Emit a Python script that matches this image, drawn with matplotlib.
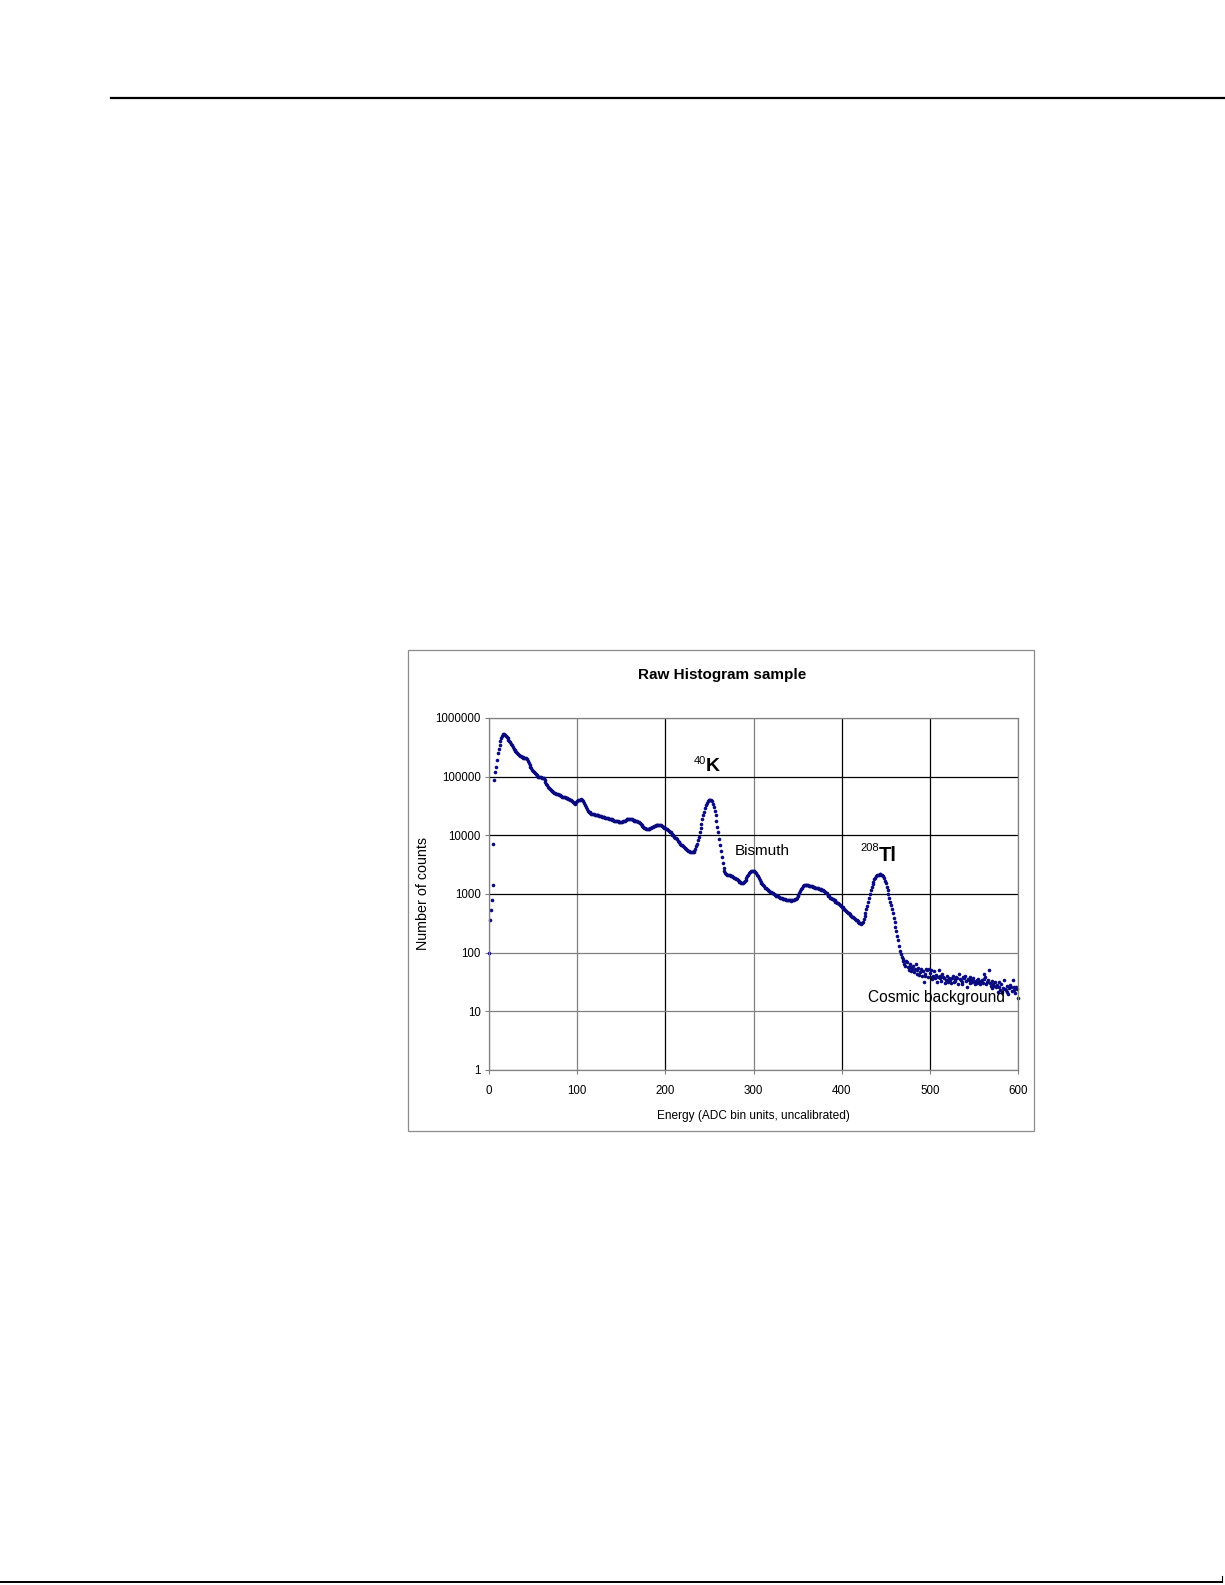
import numpy as np
import matplotlib.pyplot as plt
from matplotlib.lines import Line2D
from matplotlib.patches import Rectangle

plt.rcParams['font.family'] = ['Liberation Sans', 'DejaVu Sans']

# ADC bins 0..600, counts as log10 values
bins = np.arange(0, 601)
log10_counts = [
    2.00, 2.55, 2.72, 2.90, 3.15, 3.86, 4.95, 5.08, 5.17, 5.28,
    5.40, 5.47, 5.54, 5.60, 5.66, 5.70, 5.72, 5.72, 5.71, 5.69,
    5.68, 5.66, 5.63, 5.61, 5.59, 5.56, 5.54, 5.51, 5.48, 5.46,
    5.44, 5.42, 5.40, 5.38, 5.37, 5.36, 5.35, 5.34, 5.33, 5.32,
    5.32, 5.31, 5.31, 5.30, 5.27, 5.23, 5.20, 5.17, 5.14, 5.12,
    5.10, 5.08, 5.06, 5.04, 5.02, 5.01, 5.00, 5.00, 4.99, 4.99,
    4.98, 4.98, 4.97, 4.94, 4.91, 4.88, 4.85, 4.83, 4.81, 4.79,
    4.77, 4.76, 4.75, 4.74, 4.73, 4.72, 4.71, 4.70, 4.70, 4.69,
    4.68, 4.68, 4.67, 4.66, 4.66, 4.65, 4.65, 4.64, 4.64, 4.63,
    4.62, 4.62, 4.61, 4.60, 4.58, 4.56, 4.55, 4.54, 4.55, 4.57,
    4.59, 4.60, 4.61, 4.61, 4.62, 4.61, 4.60, 4.58, 4.55, 4.52,
    4.48, 4.45, 4.42, 4.40, 4.39, 4.38, 4.37, 4.37, 4.36, 4.36,
    4.35, 4.35, 4.35, 4.34, 4.34, 4.33, 4.33, 4.33, 4.32, 4.32,
    4.31, 4.31, 4.30, 4.30, 4.29, 4.29, 4.28, 4.28, 4.27, 4.27,
    4.26, 4.26, 4.25, 4.25, 4.24, 4.24, 4.24, 4.23, 4.23, 4.23,
    4.23, 4.23, 4.24, 4.25, 4.25, 4.26, 4.27, 4.27, 4.28, 4.28,
    4.28, 4.27, 4.27, 4.26, 4.26, 4.25, 4.25, 4.24, 4.24, 4.23,
    4.22, 4.21, 4.19, 4.17, 4.16, 4.14, 4.13, 4.12, 4.11, 4.11,
    4.11, 4.11, 4.11, 4.12, 4.13, 4.14, 4.15, 4.16, 4.16, 4.17,
    4.17, 4.18, 4.18, 4.18, 4.17, 4.17, 4.16, 4.15, 4.14, 4.13,
    4.12, 4.11, 4.10, 4.09, 4.07, 4.06, 4.05, 4.03, 4.01, 4.00,
    3.98, 3.96, 3.95, 3.93, 3.91, 3.89, 3.88, 3.86, 3.84, 3.83,
    3.81, 3.80, 3.79, 3.77, 3.76, 3.75, 3.74, 3.73, 3.72, 3.72,
    3.71, 3.71, 3.72, 3.74, 3.77, 3.81, 3.86, 3.92, 3.98, 4.05,
    4.12, 4.20, 4.27, 4.34, 4.40, 4.46, 4.51, 4.55, 4.58, 4.60,
    4.61, 4.61, 4.60, 4.58, 4.54, 4.49, 4.42, 4.34, 4.25, 4.15,
    4.05, 3.94, 3.84, 3.73, 3.63, 3.53, 3.45, 3.39, 3.36, 3.34,
    3.33, 3.33, 3.32, 3.32, 3.31, 3.31, 3.30, 3.29, 3.28, 3.27,
    3.26, 3.25, 3.24, 3.22, 3.21, 3.20, 3.19, 3.19, 3.19, 3.20,
    3.22, 3.24, 3.27, 3.30, 3.33, 3.35, 3.37, 3.39, 3.40, 3.40,
    3.40, 3.39, 3.38, 3.36, 3.33, 3.30, 3.27, 3.24, 3.21, 3.19,
    3.17, 3.15, 3.13, 3.11, 3.10, 3.08, 3.07, 3.06, 3.05, 3.04,
    3.03, 3.02, 3.01, 3.00, 2.99, 2.98, 2.97, 2.96, 2.96, 2.95,
    2.94, 2.94, 2.93, 2.92, 2.92, 2.91, 2.91, 2.90, 2.90, 2.89,
    2.89, 2.89, 2.88, 2.89, 2.89, 2.90, 2.90, 2.91, 2.92, 2.94,
    2.96, 2.99, 3.02, 3.05, 3.08, 3.11, 3.13, 3.15, 3.16, 3.16,
    3.16, 3.15, 3.15, 3.14, 3.14, 3.13, 3.13, 3.12, 3.12, 3.12,
    3.11, 3.11, 3.10, 3.10, 3.09, 3.09, 3.08, 3.07, 3.07, 3.06,
    3.05, 3.04, 3.02, 3.01, 2.99, 2.97, 2.96, 2.94, 2.93, 2.92,
    2.91, 2.90, 2.89, 2.87, 2.86, 2.85, 2.84, 2.83, 2.81, 2.80,
    2.78, 2.77, 2.75, 2.74, 2.73, 2.71, 2.70, 2.68, 2.67, 2.66,
    2.64, 2.63, 2.61, 2.60, 2.59, 2.57, 2.56, 2.55, 2.54, 2.52,
    2.51, 2.50, 2.49, 2.50, 2.53, 2.57, 2.62, 2.68, 2.74, 2.80,
    2.87, 2.94, 3.00, 3.06, 3.12, 3.17, 3.21, 3.25, 3.28, 3.30,
    3.32, 3.33, 3.33, 3.34, 3.34, 3.33, 3.32, 3.30, 3.27, 3.23,
    3.18, 3.12, 3.06, 3.00, 2.94, 2.87, 2.81, 2.74, 2.67, 2.59,
    2.52, 2.44, 2.37, 2.29, 2.21, 2.12, 2.03, 1.97, 1.93, 1.90,
    1.85, 1.81, 1.78, 1.86, 1.84, 1.76, 1.70, 1.80, 1.76, 1.68,
    1.73, 1.78, 1.67, 1.72, 1.81, 1.64, 1.71, 1.74, 1.62, 1.67,
    1.72, 1.61, 1.68, 1.50, 1.60, 1.64, 1.72, 1.70, 1.58, 1.73,
    1.66, 1.70, 1.55, 1.59, 1.61, 1.68, 1.56, 1.62, 1.50, 1.58,
    1.70, 1.60, 1.56, 1.52, 1.64, 1.58, 1.56, 1.49, 1.53, 1.60,
    1.54, 1.50, 1.57, 1.53, 1.48, 1.56, 1.61, 1.50, 1.55, 1.52,
    1.58, 1.56, 1.47, 1.64, 1.55, 1.54, 1.50, 1.47, 1.59, 1.56,
    1.61, 1.52, 1.41, 1.55, 1.53, 1.49, 1.59, 1.54, 1.50, 1.56,
    1.52, 1.47, 1.50, 1.53, 1.49, 1.55, 1.50, 1.47, 1.52, 1.53,
    1.48, 1.64, 1.55, 1.59, 1.46, 1.50, 1.54, 1.70, 1.48, 1.44,
    1.52, 1.39, 1.47, 1.44, 1.50, 1.41, 1.45, 1.33, 1.50, 1.42,
    1.36, 1.46, 1.33, 1.40, 1.53, 1.38, 1.36, 1.44, 1.33, 1.30,
    1.39, 1.45, 1.41, 1.35, 1.53, 1.42, 1.36, 1.32, 1.41, 1.38,
    1.23,
]
counts = 10 ** np.array(log10_counts)

x_ticks = [0, 100, 200, 300, 400, 500, 600]
y_ticks = [1, 10, 100, 1000, 10000, 100000, 1000000]
y_tick_labels = ['1', '10', '100', '1000', '10000', '100000', '1000000']

fig = plt.figure(figsize=(12.25, 15.85), dpi=100)

# page rules
fig.add_artist(Line2D([111/1225, 1.0], [1-98/1585, 1-98/1585], color='black', lw=1.6))
fig.add_artist(Line2D([0.0, 1222/1225], [1-1582/1585, 1-1582/1585], color='black', lw=1.4))
fig.add_artist(Line2D([1222/1225, 1222/1225], [1-1582/1585, 1-1576/1585], color='black', lw=0.8))

# chart frame
fig.add_artist(Rectangle((408/1225, 1-1131/1585), 626/1225, 481/1585,
                         fill=False, edgecolor='#8c8c8c', lw=0.9))

ax = fig.add_axes([489/1225, 1-1070/1585, 529/1225, 352/1585])
ax.set_yscale('log')
ax.set_xlim(0, 600)
ax.set_ylim(1, 1000000)

ax.set_xticks(x_ticks)
ax.set_yticks(y_ticks)
ax.set_yticklabels(y_tick_labels)
ax.yaxis.set_minor_locator(plt.NullLocator())
ax.tick_params(axis='both', labelsize=8.3, length=3, color='#808080', width=0.8)
ax.tick_params(axis='y', pad=3)
ax.tick_params(axis='x', pad=8)

ax.grid(True, lw=0.9)
# gridlines look black or gray depending on the line in the original
for line, c in zip(ax.get_xgridlines(), ['#808080', '#808080', 'black', '#808080', 'black', 'black', '#808080']):
    line.set_color(c)
for line, c in zip(ax.get_ygridlines(), ['#808080', '#808080', '#808080', 'black', 'black', 'black', '#808080']):
    line.set_color(c)
ax.set_axisbelow(True)
for s in ax.spines.values():
    s.set_color('#808080')
    s.set_linewidth(0.9)

ax.plot(bins, counts, 'o', color='#0a0a80', ms=2.6, mew=0, clip_on=False)

fig.text(722/1225, 1-675/1585, 'Raw Histogram sample', fontsize=11, fontweight='bold',
         ha='center', va='center')
ax.set_xlabel('Energy (ADC bin units, uncalibrated)', fontsize=8.6, labelpad=9)
ax.set_ylabel('Number of counts', fontsize=10.3, labelpad=4)

# peak labels
ax.text(246, 10**5.27, '40', fontsize=8, ha='right', va='center')
ax.text(246, 10**5.17, 'K', fontsize=14, fontweight='bold', ha='left', va='center')
ax.text(310, 10**3.73, 'Bismuth', fontsize=11, ha='center', va='center')
ax.text(442, 10**3.78, '208', fontsize=8, ha='right', va='center')
ax.text(442, 10**3.65, 'Tl', fontsize=14.5, fontweight='bold', ha='left', va='center')
ax.text(507, 10**1.235, 'Cosmic background', fontsize=11.2, ha='center', va='center')

plt.savefig('out.png', dpi=100)
